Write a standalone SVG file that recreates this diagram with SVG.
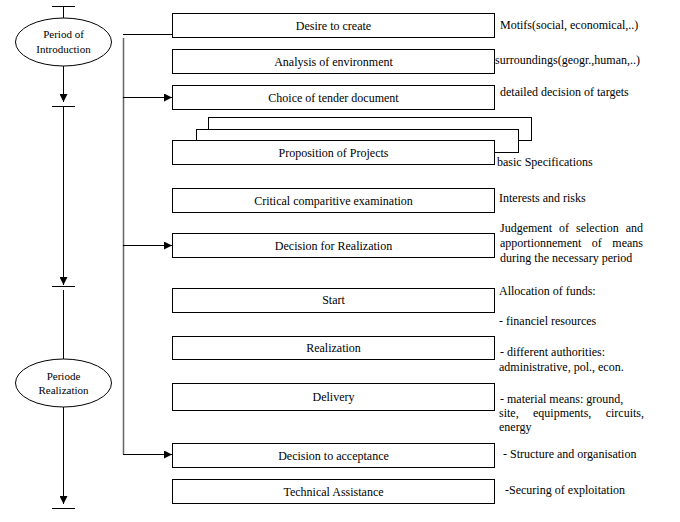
<svg xmlns="http://www.w3.org/2000/svg" width="680" height="522" viewBox="0 0 680 522" font-family="'Liberation Serif', 'DejaVu Serif', 'Noto Serif', serif">
<style>
text{font-family:'Liberation Serif','DejaVu Serif',serif;font-size:12px;fill:#000}
.c{text-anchor:middle}
.e{font-size:11px}
.box{fill:#fff;stroke:#000;stroke-width:1}
.ln{stroke:#000;stroke-width:1;fill:none}
.ar{stroke:#000;stroke-width:1;fill:none;marker-end:url(#ah)}
</style>
<defs>
<marker id="ah" markerUnits="userSpaceOnUse" markerWidth="9" markerHeight="8" refX="8" refY="4" orient="auto">
<path d="M0,0 L8,4 L0,8 Z" fill="#000"/>
</marker>
</defs>
<rect width="680" height="522" fill="#fff"/>
<g id="timeline">
<line class="ln" x1="52" y1="6.5" x2="75" y2="6.5"/>
<line class="ln" x1="63.5" y1="6" x2="63.5" y2="18"/>
<line class="ar" x1="63.5" y1="66" x2="63.5" y2="102"/>
<line class="ln" x1="52" y1="106.5" x2="75" y2="106.5"/>
<line class="ar" x1="63.5" y1="106" x2="63.5" y2="285"/>
<line class="ln" x1="52" y1="286.5" x2="75" y2="286.5"/>
<line class="ln" x1="63.5" y1="290" x2="63.5" y2="359"/>
<line class="ar" x1="63.5" y1="407" x2="63.5" y2="504"/>
<line class="ln" x1="52" y1="508.5" x2="75" y2="508.5"/>
</g>
<g id="period-introduction">
<ellipse class="box" cx="63.5" cy="42" rx="48" ry="24"/>
<text class="c e" x="63.5" y="38">Period of</text>
<text class="c e" x="63.5" y="53">Introduction</text>
</g>
<g id="periode-realization">
<ellipse class="box" cx="63.5" cy="383" rx="48" ry="24"/>
<text class="c e" x="63.5" y="380">Periode</text>
<text class="c e" x="63.5" y="394">Realization</text>
</g>
<g id="connectors">
<line x1="123.5" y1="38" x2="123.5" y2="454" stroke="#666" stroke-width="1.5"/>
<line class="ln" x1="123" y1="34.5" x2="172" y2="34.5"/>
<line class="ar" x1="123" y1="97.5" x2="172" y2="97.5"/>
<line class="ar" x1="123" y1="245.5" x2="172" y2="245.5"/>
<line class="ar" x1="123" y1="454.5" x2="172" y2="454.5"/>
</g>
<g id="desire">
<rect class="box" x="172.5" y="13.5" width="322" height="24"/>
<text class="c" x="333.5" y="29.5">Desire to create</text>
</g>
<g id="analysis">
<rect class="box" x="172.5" y="49.5" width="322" height="24"/>
<text class="c" x="333.5" y="65.5">Analysis of environment</text>
</g>
<g id="choice">
<rect class="box" x="172.5" y="85.5" width="322" height="24"/>
<text class="c" x="333.5" y="101.5">Choice of tender document</text>
</g>
<g id="proposition">
<rect class="box" x="208.5" y="117.5" width="323" height="23"/>
<rect class="box" x="196.5" y="129.5" width="322" height="23"/>
<rect class="box" x="172.5" y="140.5" width="322" height="24"/>
<text class="c" x="333.5" y="156.5">Proposition of Projects</text>
</g>
<g id="critical">
<rect class="box" x="172.5" y="188.5" width="322" height="24"/>
<text class="c" x="333.5" y="204.5">Critical comparitive examination</text>
</g>
<g id="decision-realization">
<rect class="box" x="172.5" y="233.5" width="322" height="24"/>
<text class="c" x="333.5" y="249.5">Decision for Realization</text>
</g>
<g id="start">
<rect class="box" x="172.5" y="288.5" width="322" height="24"/>
<text class="c" x="333.5" y="304">Start</text>
</g>
<g id="realization">
<rect class="box" x="172.5" y="336.5" width="322" height="23"/>
<text class="c" x="333.5" y="351.5">Realization</text>
</g>
<g id="delivery">
<rect class="box" x="172.5" y="383.5" width="322" height="27"/>
<text class="c" x="333.5" y="401">Delivery</text>
</g>
<g id="decision-acceptance">
<rect class="box" x="172.5" y="443.5" width="322" height="24"/>
<text class="c" x="333.5" y="459.5">Decision to acceptance</text>
</g>
<g id="technical">
<rect class="box" x="172.5" y="479.5" width="322" height="24"/>
<text class="c" x="333.5" y="495.5">Technical Assistance</text>
</g>
<g id="notes">
<text x="500" y="29">Motifs(social, economical,..)</text>
<text x="495" y="64">surroundings(geogr.,human,..)</text>
<text x="500" y="96">detailed decision of targets</text>
<text x="497" y="166">basic Specifications</text>
<text x="499" y="202">Interests and risks</text>
<text y="232"><tspan x="500">Judgement</tspan><tspan x="559">of</tspan><tspan x="576">selection</tspan><tspan x="625.7">and</tspan></text>
<text y="247"><tspan x="500">apportionnement</tspan><tspan x="591.8">of</tspan><tspan x="612.3">means</tspan></text>
<text x="500" y="262">during the necessary period</text>
<text x="499" y="295">Allocation of funds:</text>
<text x="499" y="325">- financiel resources</text>
<text x="500" y="356">- different authorities:</text>
<text x="499" y="371">administrative, pol., econ.</text>
<text x="500" y="403">- material means: ground,</text>
<text y="417"><tspan x="499">site,</tspan><tspan x="533">equipments,</tspan><tspan x="605.7">circuits,</tspan></text>
<text x="499" y="431">energy</text>
<text x="503" y="458">- Structure and organisation</text>
<text x="505" y="494">-Securing of exploitation</text>
</g>
</svg>
